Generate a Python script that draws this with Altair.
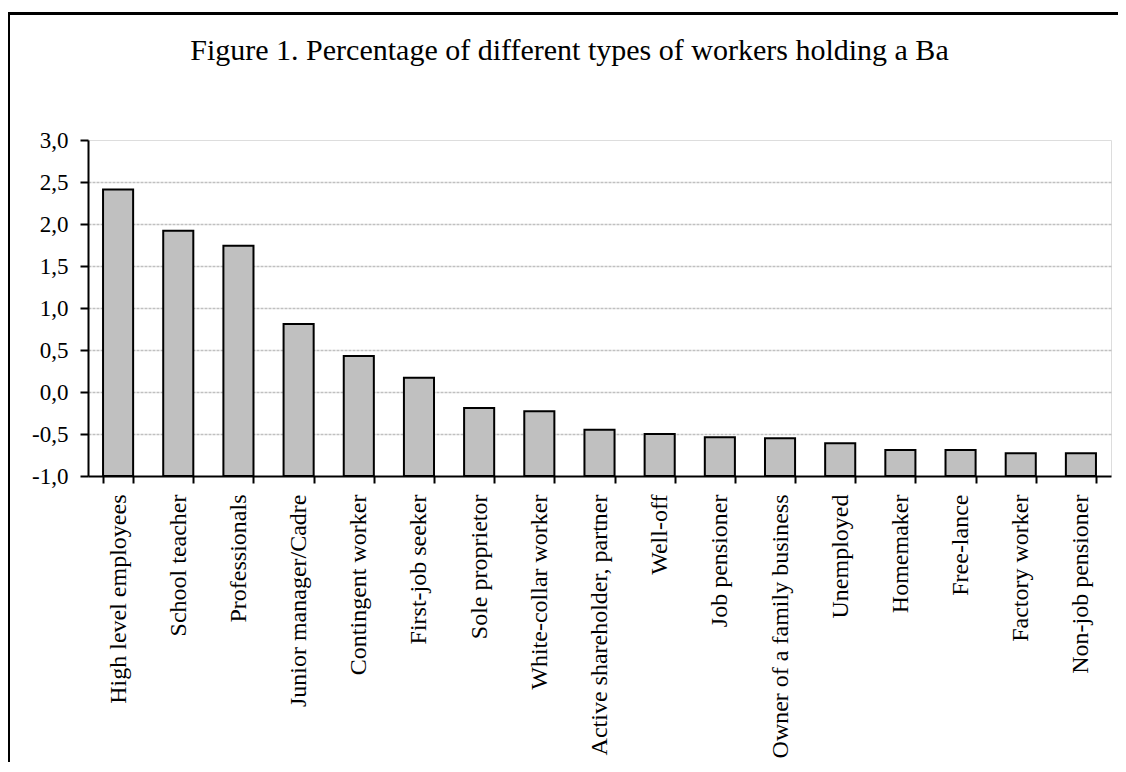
import altair as alt
import pandas as pd

categories = [
    "High level employees", "School teacher", "Professionals",
    "Junior manager/Cadre", "Contingent worker", "First-job seeker",
    "Sole proprietor", "White-collar worker", "Active shareholder, partner",
    "Well-off", "Job pensioner", "Owner of a family business",
    "Unemployed", "Homemaker", "Free-lance", "Factory worker",
    "Non-job pensioner",
]
values = [2.41, 1.92, 1.74, 0.81, 0.43, 0.17, -0.19, -0.23, -0.45,
          -0.50, -0.54, -0.55, -0.61, -0.69, -0.69, -0.73, -0.73]
y_ticks = [-1.0, -0.5, 0.0, 0.5, 1.0, 1.5, 2.0, 2.5, 3.0]
title_text = "Figure 1. Percentage of different types of workers holding a Ba"

df = pd.DataFrame({"category": categories, "value": values})

FONT = "Liberation Serif"

bars = alt.Chart(df).mark_bar(
    fill="#C0C0C0", stroke="#000000", strokeWidth=2
).encode(
    x=alt.X("category:N", sort=categories, title=None,
            scale=alt.Scale(paddingInner=0.5, paddingOuter=0.25),
            axis=alt.Axis(labelAngle=270, tickBand="extent", tickSize=7,
                          labelPadding=11, domainColor="#000000",
                          domainWidth=2, tickColor="#000000", tickWidth=2,
                          labelFont=FONT, labelFontSize=24, labelLimit=400,
                          labelColor="#000000", grid=False)),
    y=alt.Y("value:Q", title=None,
            scale=alt.Scale(domain=[-1, 3], nice=False, zero=False),
            axis=alt.Axis(values=y_ticks, tickSize=8, labelPadding=12,
                          labelExpr="replace(replace(format(datum.value, '.1f'), '.', ','), '\u2212', '-')",
                          domainColor="#000000", domainWidth=2,
                          tickColor="#000000", tickWidth=2,
                          labelFont=FONT, labelFontSize=23,
                          labelColor="#000000",
                          grid=True, gridColor="#C0C0C0", gridDash=[3, 1],
                          gridWidth=1.5,
                          gridOpacity=alt.condition("datum.value == 3 || datum.value == -1",
                                                    alt.value(0), alt.value(1)))),
    y2=alt.datum(-1),
)

frame_top = alt.Chart(df).mark_rule(color="#000000", strokeWidth=2.5).encode(
    x=alt.value(-80), x2=alt.value(1040), y=alt.value(-126.5)
)
frame_left = alt.Chart(df).mark_rule(color="#000000", strokeWidth=2.5).encode(
    x=alt.value(-79.5), y=alt.value(-127.5), y2=alt.value(640)
)

chart = alt.layer(bars, frame_top, frame_left).properties(
    width=1023,
    height=336,
    autosize=alt.AutoSizeParams(type="none"),
    padding={"left": 80, "top": 132, "right": 7, "bottom": 286},
    title=alt.TitleParams(title_text, font=FONT, fontSize=30,
                          fontWeight="normal", color="#000000",
                          anchor="middle", dx=-30, baseline="alphabetic",
                          offset=-79),
).configure_view(
    stroke="#808080", strokeWidth=2
).configure(background="#FFFFFF")

chart.save("out.html", embed_options={"renderer": "svg", "actions": False})
